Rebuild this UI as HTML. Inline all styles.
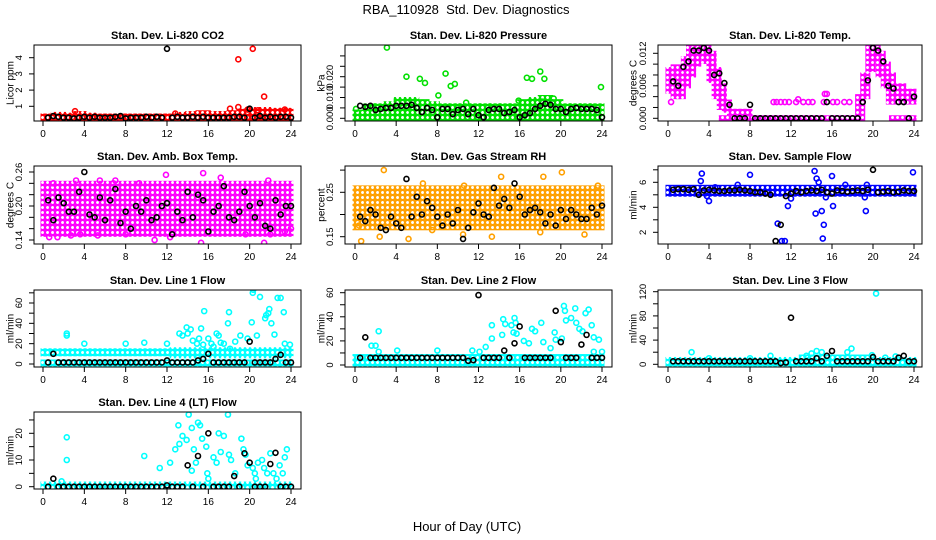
<!DOCTYPE html>
<html><head><meta charset="utf-8">
<style>
html,body{margin:0;padding:0;background:#fff;}
svg{display:block;font-family:"Liberation Sans",Arial,sans-serif;}
</style></head>
<body>
<svg id="chart" width="936" height="540" viewBox="0 0 936 540" xmlns="http://www.w3.org/2000/svg">
<defs id="defs"></defs>
<text x="466" y="14" font-size="13" text-anchor="middle">RBA_110928&#160; Std. Dev. Diagnostics</text>
<text x="467" y="531" font-size="13" text-anchor="middle">Hour of Day (UTC)</text>
<g id="plots"></g>
</svg>
<script>
const xTicks = [0,4,8,12,16,20,24];
const halfHours = [0.5,1,1.5,2,2.5,3,3.5,4,4.5,5,5.5,6,6.5,7,7.5,8,8.5,9,9.5,10,10.5,11,11.5,12,12.5,13,13.5,14,14.5,15,15.5,16,16.5,17,17.5,18,18.5,19,19.5,20,20.5,21,21.5,22,22.5,23,23.5,24];

// Panel 1: CO2
const co2Bands = [[0,1,0.15,0.4],[1,2,0.15,0.5],[2,3,0.15,0.45],[3,4,0.15,0.55],[4,5,0.15,0.45],[5,6,0.15,0.4],[6,7,0.15,0.4],[7,8,0.15,0.4],[8,9,0.15,0.4],[9,10,0.15,0.4],[10,11,0.15,0.4],[11,12,0.15,0.4],[12,13,0.15,0.4],[13,14,0.15,0.5],[14,15,0.15,0.55],[15,16,0.15,0.6],[16,17,0.15,0.55],[17,18,0.15,0.55],[18,19,0.15,0.6],[19,20,0.15,0.7],[20,21,0.15,0.8],[21,22,0.15,0.8],[22,23,0.15,0.75],[23,24,0.15,0.75]];
const co2Points = [[3.1,0.7],[12.8,0.55],[18.1,0.85],[18.9,0.95],[18.9,3.9],[20.3,4.55],[21.4,1.6],[19.8,0.8],[23.4,0.8],[20.8,0.75]];
const co2Black = [0.3,0.4,0.35,0.3,0.3,0.25,0.3,0.35,0.3,0.35,0.3,0.3,0.3,0.35,0.4,0.25,0.3,0.3,0.3,0.35,0.3,0.35,0.3,4.55,0.3,0.35,0.3,0.3,0.35,0.3,0.35,0.3,0.3,0.3,0.3,0.3,0.35,0.35,0.3,0.85,0.3,0.4,0.3,0.35,0.3,0.35,0.35,0.3];

// Panel 2: Pressure
const presBands = [[0,1,0,0.003],[1,2,0,0.006],[2,3,0,0.006],[3,4,0,0.007],[4,5,0,0.009],[5,6,0,0.009],[6,7,0,0.008],[7,8,0,0.007],[8,9,0,0.006],[9,10,0,0.006],[10,11,0,0.006],[11,12,0,0.006],[12,13,0,0.006],[13,14,0,0.006],[14,15,0,0.006],[15,16,0,0.006],[16,17,0,0.008],[17,18,0,0.009],[18,19,0,0.010],[19,20,0,0.008],[20,21,0,0.006],[21,22,0,0.006],[22,23,0,0.006],[23,24,0,0.006]];
const presPoints = [[0.1,0.0045],[3.1,0.034],[5,0.020],[6.3,0.019],[6.8,0.017],[8.1,0.011],[8.8,0.0215],[9.3,0.0155],[9.7,0.0165],[10.8,0.0075],[15.9,0.0085],[16.7,0.0195],[17.2,0.019],[18,0.0225],[18.2,0.008],[18.4,0.019],[19.3,0.0095],[23.9,0.015],[5.1,0.0075]];
const presBlack = [0.006,0.0055,0.006,0.004,0.0045,0.005,0.005,0.006,0.006,0.006,0.0065,0.005,0.003,0.005,0.004,0.0005,0.0045,0.0045,0.002,0.004,0.0045,0.002,0.0045,0.0015,0.0005,0.004,0.0045,0.0045,0.0025,0.003,0.004,0.0005,0.0015,0.0025,0.0045,0.006,0.007,0.0065,0.0045,0.0045,0.003,0.0045,0.005,0.0045,0.0045,0.0045,0.004,0.0005];

// Panel 3: Li-820 Temp
const tempBands = [[0,0.5,0.005,0.009],[0.5,1,0.004,0.0095],[1,1.5,0.004,0.009],[1.5,2,0.006,0.011],[2,2.5,0.008,0.013],[2.5,3,0.010,0.0135],[3,3.5,0.0115,0.0135],[3.5,4,0.0105,0.0135],[4,4.5,0.007,0.012],[4.5,5,0.004,0.009],[5,5.5,0.002,0.006],[5.5,6,0.0015,0.003],[6,8,0.001,0.0013],[18.5,19,0.001,0.004],[19,19.5,0.004,0.008],[19.5,20,0.009,0.0135],[20,20.5,0.011,0.0135],[20.5,21,0.008,0.012],[21,21.5,0.006,0.010],[21.5,22,0.003,0.008],[22,23,0.003,0.006],[23,24,0.003,0.005],[5.2,19,-0.0001,0.0001],[21.8,24,-0.0001,0.0001]];
const tempPoints = [[0.3,0.003],[10.3,0.003],[10.6,0.003],[11,0.003],[11.4,0.003],[11.8,0.003],[12.5,0.003],[12.7,0.0035],[13.2,0.003],[13.7,0.003],[14.1,0.003],[15.2,0.003],[15.3,0.0045],[15.5,0.0045],[16.1,0.003],[16.5,0.003],[17.2,0.003],[17.7,0.003]];
const tempBlack = [0.0068,0.006,0.0095,0.0105,0.0125,0.0125,0.013,0.0125,0.008,0.0083,0.0065,0.0025,0,0,0,0.0025,0,0,0,0,0,0,0,0,0,0,0,0,0,0,0.003,0,0,0,0,0,0,0.003,0.007,0.013,0.0125,0.0105,0.006,0.0055,0.003,0.003,0,0.004];

// Panel 4: Amb box temp
const boxBands = [[0,24,0.15,0.24]];
const boxPoints = [[0.6,0.145],[1,0.24],[3.2,0.245],[5.5,0.245],[6.8,0.24],[7,0.245],[9.3,0.24],[10.8,0.14],[11.9,0.255],[15.3,0.135],[15.5,0.258],[17.2,0.25],[21.4,0.135],[22,0.15],[21.8,0.245],[1.4,0.145],[2.7,0.148],[5.3,0.148],[24,0.16],[3.6,0.15],[8,0.15],[12.3,0.145],[19.6,0.15],[23.4,0.155]];
const boxBlack = [0.21,0.175,0.215,0.205,0.19,0.19,0.225,0.26,0.185,0.18,0.215,0.175,0.21,0.23,0.17,0.19,0.16,0.2,0.19,0.21,0.175,0.18,0.2,0.205,0.15,0.19,0.175,0.225,0.18,0.22,0.21,0.155,0.19,0.2,0.235,0.18,0.175,0.19,0.225,0.2,0.18,0.205,0.165,0.16,0.21,0.185,0.2,0.2];

// Panel 5: Gas stream RH
const rhBands = [[0,24,0.17,0.26]];
const rhPoints = [[2.8,0.30],[5.2,0.145],[0.6,0.14],[2.4,0.15],[10.5,0.155],[13.3,0.15],[20.1,0.295],[14.2,0.285],[18.3,0.285],[22.3,0.155],[23.6,0.265],[6.6,0.27],[10.6,0.265],[7.5,0.165],[0.4,0.175],[18,0.16]];
const rhBlack = [0.195,0.185,0.21,0.2,0.17,0.165,0.195,0.18,0.17,0.28,0.195,0.24,0.2,0.23,0.215,0.195,0.175,0.2,0.18,0.21,0.145,0.17,0.205,0.225,0.2,0.195,0.26,0.22,0.235,0.215,0.27,0.24,0.2,0.21,0.215,0.205,0.18,0.2,0.175,0.21,0.19,0.21,0.2,0.19,0.19,0.215,0.2,0.22];

// Panel 6: Sample flow
const flowBands = [[0,24,5.05,5.6]];
const flowPoints = [[3.2,6.1],[3.3,6.7],[4,4.5],[8,6.6],[10.7,2.7],[11.1,1.3],[11.4,1.3],[11.7,4.1],[14.3,6.9],[14.5,6.3],[14.4,3.5],[14.7,6.0],[15.1,1.5],[15.2,2.6],[15,3.7],[16,6.5],[16.1,4.1],[19.3,3.7],[19.2,4.8],[23.9,6.8],[17.3,5.8],[6.8,5.8],[19.4,5.8],[4.6,5.6],[12,4.7],[15.4,4.8],[3.8,4.9]];
const flowBlack = [5.4,5.45,5.45,5.4,5.45,5.0,5.35,5.4,5.35,5.3,5.3,5.35,5.35,5.4,5.35,5.3,5.2,5.2,5.1,5.0,1.3,2.6,4.9,5.1,5.3,5.2,5.3,5.35,5.3,5.4,5.2,5.1,5.35,5.3,5.25,5.3,5.35,5.3,5.4,7.0,5.2,5.25,5.3,5.2,5.25,5.35,5.3,5.3];

// Panel 7: Line 1
const l1Bands = [[0,12.5,10,13],[0,24,0,2],[12.5,24,8,14]];
const l1Points = [[2.3,30],[2.3,28],[4,20],[8,20],[9.8,21],[12,20],[13.2,30],[13.5,28],[13.9,36],[14,30],[14.3,34],[14.5,23],[14.9,20],[15.3,35],[15.6,52],[15.1,25],[16,25],[16.3,20],[16.8,30],[17,28],[17.2,21],[17.5,20],[17.9,40],[18,51],[18.6,22],[19.1,28],[19.8,25],[20.2,41],[20.3,70],[20.35,73],[20.7,28],[21,66],[21.5,45],[21.6,48],[21.9,54],[21.8,50],[22.1,40],[22.4,29],[22.7,65],[23,65],[23.3,51],[23.4,20],[23.9,19],[15.5,19],[18.1,15],[16.5,17]];
const l1Black = [1.5,10,1.5,1.5,1.5,1.5,1.5,1.5,1.5,1.5,1.5,1.5,1.5,1.5,1.5,1.5,1.5,1.5,1.5,1.5,1.5,1.5,1.5,3.5,1.5,1.5,1.5,1.5,1.5,3.5,5,10,1.5,1.5,1.5,1.5,1.5,1.5,1.5,22,1.5,1.5,1.5,1.5,5,9,1.5,1.5];

// Panel 8: Line 2
const l2Bands = [[0,24,0,7]];
const l2Points = [[2.3,28],[1.6,16],[2.0,16],[2.3,11],[4.1,12],[8,12],[11.4,12],[12.1,11],[12.7,15],[13.3,22],[13.3,33],[14.4,38],[14.6,34],[14.3,25],[15.2,33],[15.5,39],[15.6,35],[15.4,27],[15.7,26],[16.4,20],[16.9,18],[17.2,30],[17.5,28],[18.1,35],[18.3,19],[19,14],[19.4,27],[19.5,21],[20.3,49],[20.4,45],[20.5,37],[20.1,22],[21,39],[21.4,47],[21.5,35],[21.8,30],[22.1,28],[22.4,43],[22.7,46],[23,33],[23.2,23],[23.7,21],[24,11],[23.2,11]];
const l2Black = [6,23,6,6,6,6,6,6,6,6,6,6,6,6,6,6,6,6,6,6,6,3.5,4,58,6,6,6,6,12,6,18,32,6,6,6,6,6,6,45,19,6,6,6,17,25,6,6,6];

// Panel 9: Line 3
const l3Bands = [[0,24,0,8],[13,20,0,12]];
const l3Points = [[2.3,20],[4,10],[8,10],[10,14],[14,18],[14.5,22],[15,20],[17.5,20],[17.9,26],[20.3,117],[13.5,14],[19.9,15],[22.2,13],[21.2,11]];
const l3Black = [5,5,5,5,5,5,5,5,5,5,5,5,5,5,5,5,5,5,5,5,5,2,3,77,5,5,5,5,10,5,14,22,5,5,5,5,5,5,5,12,5,5,5,5,11,14,5,5];

// Panel 10: Line 4
const l4Bands = [[0,24,0,1]];
const l4Points = [[1.8,2],[2.3,18.5],[2.3,10],[9.8,11.5],[11.3,7],[12.3,9],[12.8,14],[13.1,23],[13.2,16],[13.5,19],[13.9,17.5],[14.1,27],[14.4,22],[14.6,14],[14.8,9],[15,24],[15.2,23],[15.4,18],[15.8,15],[15.9,5],[16,3],[16.5,11],[16.8,9],[17,20],[17.2,13],[17.5,19],[17.9,27],[18,12],[18.2,10],[18.6,5],[19.2,18],[19.4,14],[19.6,12],[19.8,8],[20.3,7],[20.5,5],[20.8,9],[21.2,10],[21.4,7],[21.7,5],[22,12.5],[22.3,5],[22.6,3],[22.9,8],[23.2,5],[23.6,14],[23.4,11],[20.6,3],[14.4,6]];
const l4Black = [0,3,0,0,0,0,0,0,0,0,0,0,0,0,0,0,0,0,0,0,0,0,0,0.5,0,0,0,8,0,11.5,0,20,0,0,0,0,4,0,12.5,9,0,0,0,8.5,12.7,0,0,0];

// y tick arrays
const co2Ticks=[1,2,3,4], co2Labels=["1","2","3","4"];
const presTicks=[0,0.005,0.01,0.015,0.02,0.025,0.03], presLabels=["0.000","","0.010","","0.020","",""];
const tempTicks=[0,0.002,0.004,0.006,0.008,0.01,0.012], tempLabels=["0.000","","","0.006","","","0.012"];
const boxTicks=[0.14,0.16,0.18,0.2,0.22,0.24,0.26], boxLabels=["0.14","","","0.20","","","0.26"];
const rhTicks=[0.15,0.2,0.25,0.3], rhLabels=["0.15","","0.25",""];
const flowTicks=[2,3,4,5,6,7], flowLabels=["2","","4","","6",""];
const l1Ticks=[0,10,20,30,40,50,60,70], l1Labels=["0","","20","","40","","60",""];
const l2Ticks=[0,10,20,30,40,50,60], l2Labels=["0","","20","","40","","60"];
const l3Ticks=[0,20,40,60,80,100,120], l3Labels=["0","","40","","80","","120"];
const l4Ticks=[0,5,10,15,20,25], l4Labels=["0","","10","","20",""];

const cols=[{l:34,r:301,x0:43,x24:291,yl:10},{l:345,r:612,x0:355,x24:602,yl:321},{l:658,r:922,x0:668,x24:914,yl:633}];
const rows=[{t:45,b:121},{t:166,b:244},{t:290,b:367},{t:412,b:489}];

const panels=[
 {name:'co2',title:'Stan. Dev. Li-820 CO2',ylab:'Licor ppm',c:0,r:0,color:'#ff0000',y0:0,y0px:122.5,y1:4,y1px:57.7,bands:co2Bands,pts:co2Points,black:co2Black,ticks:co2Ticks,labels:co2Labels},
 {name:'pressure',title:'Stan. Dev. Li-820 Pressure',ylab:'kPa',c:1,r:0,color:'#00e000',y0:0,y0px:118.3,y1:0.02,y1px:76.7,bands:presBands,pts:presPoints,black:presBlack,ticks:presTicks,labels:presLabels},
 {name:'li820-temp',title:'Stan. Dev. Li-820 Temp.',ylab:'degrees C',c:2,r:0,color:'#ff00ff',y0:0,y0px:118.3,y1:0.012,y1px:53.3,bands:tempBands,pts:tempPoints,black:tempBlack,ticks:tempTicks,labels:tempLabels},
 {name:'box-temp',title:'Stan. Dev. Amb. Box Temp.',ylab:'degrees C',c:0,r:1,color:'#ff00ff',y0:0.14,y0px:240,y1:0.26,y1px:172,bands:boxBands,pts:boxPoints,black:boxBlack,ticks:boxTicks,labels:boxLabels},
 {name:'gas-rh',title:'Stan. Dev. Gas Stream RH',ylab:'percent',c:1,r:1,color:'#ffa000',y0:0.15,y0px:236.7,y1:0.25,y1px:192.3,bands:rhBands,pts:rhPoints,black:rhBlack,ticks:rhTicks,labels:rhLabels},
 {name:'sample-flow',title:'Stan. Dev. Sample Flow',ylab:'ml/min',c:2,r:1,color:'#0000ff',y0:2,y0px:232.3,y1:6,y1px:182.3,bands:flowBands,pts:flowPoints,black:flowBlack,ticks:flowTicks,labels:flowLabels},
 {name:'line1-flow',title:'Stan. Dev. Line 1 Flow',ylab:'ml/min',c:0,r:2,color:'#00ffff',y0:0,y0px:364,y1:60,y1px:303,bands:l1Bands,pts:l1Points,black:l1Black,ticks:l1Ticks,labels:l1Labels},
 {name:'line2-flow',title:'Stan. Dev. Line 2 Flow',ylab:'ml/min',c:1,r:2,color:'#00ffff',y0:0,y0px:365,y1:60,y1px:292.7,bands:l2Bands,pts:l2Points,black:l2Black,ticks:l2Ticks,labels:l2Labels},
 {name:'line3-flow',title:'Stan. Dev. Line 3 Flow',ylab:'ml/min',c:2,r:2,color:'#00ffff',y0:0,y0px:364.3,y1:120,y1px:291.7,bands:l3Bands,pts:l3Points,black:l3Black,ticks:l3Ticks,labels:l3Labels},
 {name:'line4-flow',title:'Stan. Dev. Line 4 (LT) Flow',ylab:'ml/min',c:0,r:3,color:'#00ffff',y0:0,y0px:486.7,y1:20,y1px:433.3,bands:l4Bands,pts:l4Points,black:l4Black,ticks:l4Ticks,labels:l4Labels}
];

const NS='http://www.w3.org/2000/svg';
function mk(tag,attrs,parent){const e=document.createElementNS(NS,tag);for(const k in attrs)e.setAttribute(k,attrs[k]);parent.appendChild(e);return e;}
const root=document.getElementById('plots');
const defs=document.getElementById('defs');

panels.forEach(p=>{
  const col=cols[p.c], row=rows[p.r];
  const xs=h=>col.x0+(h/24)*(col.x24-col.x0);
  const ys=v=>p.y0px+(v-p.y0)/(p.y1-p.y0)*(p.y1px-p.y0px);
  const patId='pat-'+p.name;
  const pat=mk('pattern',{id:patId,patternUnits:'userSpaceOnUse',width:5,height:5},defs);
  mk('circle',{cx:2.5,cy:2.5,r:2.2,fill:'none',stroke:p.color,'stroke-width':1.5},pat);
  mk('circle',{cx:0,cy:0,r:1,fill:p.color},pat);
  mk('circle',{cx:5,cy:5,r:1,fill:p.color},pat);
  mk('circle',{cx:0,cy:5,r:1,fill:p.color},pat);
  mk('circle',{cx:5,cy:0,r:1,fill:p.color},pat);
  const g=mk('g',{},root);
  
  
  const clipId='clip-'+p.name;
  const cp=mk('clipPath',{id:clipId},g);
  mk('rect',{x:col.l,y:row.t,width:col.r-col.l,height:row.b-row.t},cp);
  const t=mk('text',{x:(col.l+col.r)/2,y:row.t-6,'font-size':11,'font-weight':'bold','text-anchor':'middle'},g);
  t.textContent=p.title;
  
  
  const yl=mk('text',{x:col.yl,y:(row.t+row.b)/2,'font-size':10,'text-anchor':'middle',transform:`rotate(-90 ${col.yl} ${(row.t+row.b)/2})`,dy:'0.35em'},g);
  yl.textContent=p.ylab;
  
  
  const data=mk('g',{'clip-path':`url(#${clipId})`},g);
  
  
  p.bands.forEach(b=>{
    const x1=xs(b[0])-2.5,x2=xs(b[1])+2.5,yt=ys(b[3])-2.5,yb=ys(b[2])+2.5;
    const r=mk('rect',{x:x1,y:yt,width:x2-x1,height:yb-yt,fill:`url(#${patId})`},data);
    
    
  });
  p.pts.forEach(pt=>{
    const c=mk('circle',{cx:xs(pt[0]),cy:ys(pt[1]),r:2.5,fill:'none',stroke:p.color,'stroke-width':1.6},data);
    
    
  });
  p.black.forEach((v,i)=>{
    const c=mk('circle',{cx:xs(halfHours[i]),cy:ys(v),r:2.5,fill:'none',stroke:'#000','stroke-width':1.6},data);
    
    
  });
  const box=mk('rect',{x:col.l,y:row.t,width:col.r-col.l,height:row.b-row.t,fill:'none',stroke:'#000','stroke-width':1},g);
  
  
  const xa=mk('g',{},g);
  
  
  mk('line',{x1:xs(xTicks[0]),x2:xs(xTicks[xTicks.length-1]),y1:row.b,y2:row.b,stroke:'#000'},xa);
  xTicks.forEach(tk=>{
    mk('line',{x1:xs(tk),x2:xs(tk),y1:row.b,y2:row.b+5,stroke:'#000'},xa);
    const lt=mk('text',{x:xs(tk),y:row.b+16,'font-size':10,'text-anchor':'middle'},xa);
    lt.textContent=String(tk);
  });
  const ya=mk('g',{},g);
  
  
  p.ticks.forEach((tk,i)=>{
    const y=ys(tk);
    mk('line',{x1:col.l-5,x2:col.l,y1:y,y2:y,stroke:'#000'},ya);
    if(p.labels[i]){
      const lx=col.l-12;
      const lt=mk('text',{x:lx,y:y,'font-size':9.5,'text-anchor':'middle',transform:`rotate(-90 ${lx} ${y})`},ya);
      lt.textContent=p.labels[i];
    }
  });
});
</script>
</body></html>
